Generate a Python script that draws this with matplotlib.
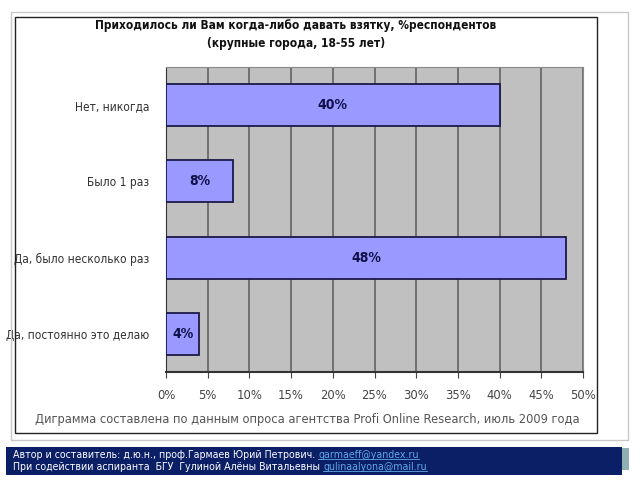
import matplotlib
matplotlib.use("Agg")
import matplotlib.pyplot as plt
from matplotlib.patches import Rectangle
from matplotlib.lines import Line2D
from matplotlib.ticker import MultipleLocator, FuncFormatter

plt.rcParams['font.family'] = ['DejaVu Sans']
plt.rcParams['font.stretch'] = 'condensed'

# survey answers, top to bottom
categories = ["Нет, никогда", "Было 1 раз", "Да, было несколько раз", "Да, постоянно это делаю"]
values = [40, 8, 48, 4]

TITLE = "Приходилось ли Вам когда-либо давать взятку, %респондентов\n(крупные города, 18-55 лет)"
NOTE = "Диграмма составлена по данным опроса агентства Profi Online Research, июль 2009 года"
AUTHORS = [("Автор и составитель: д.ю.н., проф.Гармаев Юрий Петрович. ", "garmaeff@yandex.ru"),
           ("При содействии аспиранта  БГУ  Гулиной Алёны Витальевны ", "gulinaalyona@mail.ru")]

BAR = "#9999ff"
EDGE = "#1a1a4a"
PLOT_BG = "#c0c0c0"
GRID = "#6a6a6a"
NAVY = "#0b1f66"


def fig_rect(x0, y0, x1, y1, **kw):
    # rectangle given in pixel coords from the top-left corner
    fig.add_artist(Rectangle((x0 / 640, 1 - y1 / 480), (x1 - x0) / 640, (y1 - y0) / 480,
                             transform=fig.transFigure, **kw))


fig = plt.figure(figsize=(6.4, 4.8), dpi=100, facecolor="white")

# outer frames (slide style)
fig_rect(11, 12, 628, 440, fill=False, edgecolor="#c8c8c8", linewidth=1)
fig_rect(15, 17, 597, 433, fill=False, edgecolor="#222222", linewidth=1)

ax = fig.add_axes([166/640, 1-372/480, 417/640, 305/480])
ax.set_facecolor(PLOT_BG)
ypos = list(range(len(categories)))
bars = ax.barh(ypos, values, height=0.55, color=BAR, edgecolor=EDGE, linewidth=1.3, zorder=3)
for b, v in zip(bars, values):
    ax.text(b.get_width() / 2, b.get_y() + b.get_height() / 2, f"{v}%",
            ha="center", va="center", fontsize=10, fontweight="bold", color="#10104a", zorder=4)

ax.set_xlim(0, 50)
ax.set_ylim(len(categories) - 0.5, -0.5)
ax.xaxis.set_major_locator(MultipleLocator(5))
ax.xaxis.set_major_formatter(FuncFormatter(lambda x, p: f"{x:.0f}%"))
ax.set_yticks(ypos)
ax.set_yticklabels(categories)
ax.tick_params(axis="y", length=0, pad=12, labelsize=8.6, colors="#333333")
ax.tick_params(axis="x", length=4, pad=8, labelsize=9.3, colors="#444444")
ax.grid(axis="x", color=GRID, linewidth=1.3, zorder=1)
for s in ["top", "right"]:
    ax.spines[s].set_color("#8a8a8a")
ax.spines["left"].set_color("#333333")
ax.spines["bottom"].set_color("#333333")
ax.spines["bottom"].set_linewidth(1.5)

fig.text(296/640, 1-34.5/480, TITLE, ha="center", va="center", fontsize=8.6,
         fontweight="bold", color="#111111", linespacing=1.45)
fig.text(35/640, 1-420/480, NOTE, ha="left", va="center", fontsize=8.3, color="#555555",
         fontstretch="normal")

# author box
fig_rect(620, 448, 629, 470, facecolor="#8fb0b0", edgecolor="none")
fig_rect(6, 447, 622, 475, facecolor=NAVY, edgecolor="none")
fig.canvas.draw()
r = fig.canvas.get_renderer()
for i, (line, mail) in enumerate(AUTHORS):
    yf = 1 - (455 + 11.5 * i) / 480
    t = fig.text(13/640, yf, line, ha="left", va="center", fontsize=7.6, color="white")
    x1 = t.get_window_extent(r).x1 / fig.bbox.width
    m = fig.text(x1, yf, mail, ha="left", va="center", fontsize=7.6, color="#5fa8e8")
    mb = m.get_window_extent(r)
    uy = (mb.y0 + 1) / fig.bbox.height
    fig.add_artist(Line2D([mb.x0 / fig.bbox.width, mb.x1 / fig.bbox.width], [uy, uy],
                          transform=fig.transFigure, color="#5fa8e8", linewidth=0.6))

fig.savefig("out.png", dpi=100, facecolor="white")
